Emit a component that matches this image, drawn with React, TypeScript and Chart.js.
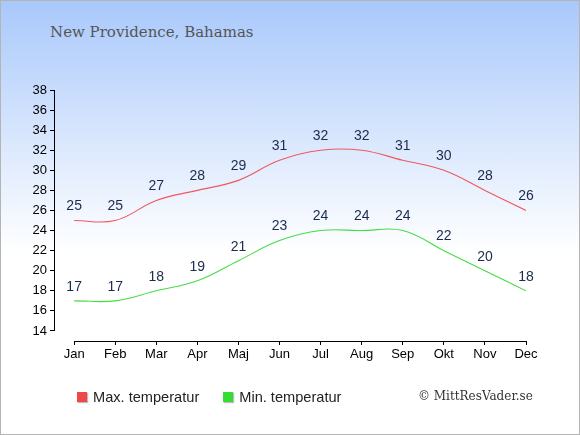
import React, { useEffect, useRef } from 'react';
import { Chart, registerables } from 'chart.js';

Chart.register(...registerables);

const months = ['Jan', 'Feb', 'Mar', 'Apr', 'Maj', 'Jun', 'Jul', 'Aug', 'Sep', 'Okt', 'Nov', 'Dec'];
const maxTemp = [25, 25, 27, 28, 29, 31, 32, 32, 31, 30, 28, 26];
const minTemp = [17, 17, 18, 19, 21, 23, 24, 24, 24, 22, 20, 18];
const yTicks = [14, 16, 18, 20, 22, 24, 26, 28, 30, 32, 34, 36, 38];

const SANS = '"Liberation Sans", Arial, sans-serif';
const SERIF = '"DejaVu Serif", Georgia, serif';

// axis lines that stop at the first/last tick, plus the value labels over each point
const axesAndLabels = {
  id: 'axesAndLabels',
  afterDraw(chart: any) {
    const { ctx, chartArea, scales } = chart;
    const x = scales.x;
    const y = scales.y;
    ctx.save();
    ctx.strokeStyle = '#000';
    ctx.lineWidth = 1;
    ctx.beginPath();
    const ax = Math.round(chartArea.left) + 0.5;
    ctx.moveTo(ax, y.getPixelForValue(yTicks[yTicks.length - 1]));
    ctx.lineTo(ax, y.getPixelForValue(yTicks[0]));
    const ay = Math.round(chartArea.bottom) + 0.5;
    ctx.moveTo(x.getPixelForValue(0), ay);
    ctx.lineTo(x.getPixelForValue(months.length - 1), ay);
    ctx.stroke();

    ctx.fillStyle = '#1b2b4d';
    ctx.font = `14px ${SANS}`;
    ctx.textAlign = 'center';
    ctx.textBaseline = 'middle';
    chart.data.datasets.forEach((ds: any, i: number) => {
      chart.getDatasetMeta(i).data.forEach((pt: any, j: number) => {
        ctx.fillText(String(ds.data[j].y), pt.x, pt.y - 14);
      });
    });
    ctx.restore();
  },
};

const App = () => {
  const canvasRef = useRef<HTMLCanvasElement>(null);

  useEffect(() => {
    document.body.style.margin = '0';
    const ctx = canvasRef.current?.getContext('2d');
    if (!ctx) return;
    const chart = new Chart(ctx, {
      type: 'line',
      data: {
        datasets: [
          {
            label: 'Max. temperatur',
            data: maxTemp.map((v, i) => ({ x: i, y: v })),
            borderColor: '#f0585c',
            borderWidth: 1.1,
            pointRadius: 0,
            tension: 0.4,
            fill: false,
          },
          {
            label: 'Min. temperatur',
            data: minTemp.map((v, i) => ({ x: i, y: v })),
            borderColor: '#44dd44',
            borderWidth: 1.1,
            pointRadius: 0,
            tension: 0.4,
            fill: false,
          },
        ],
      },
      options: {
        animation: false,
        responsive: true,
        maintainAspectRatio: false,
        layout: { padding: { top: 90, right: 54, bottom: 68, left: 0 } },
        plugins: { legend: { display: false }, tooltip: { enabled: false } },
        scales: {
          x: {
            type: 'linear',
            min: -0.49,
            max: 11,
            afterBuildTicks: (s: any) => { s.ticks = months.map((_, i) => ({ value: i })); },
            afterFit: (s: any) => { s.height = 26; },
            ticks: {
              callback: (v: any) => months[v],
              color: '#000',
              font: { family: SANS, size: 13 },
              padding: 2,
              maxRotation: 0,
              autoSkip: false,
            },
            grid: { drawOnChartArea: false, tickLength: 4, color: '#000' },
            border: { display: false },
          },
          y: {
            type: 'linear',
            min: 13,
            max: 38,
            afterBuildTicks: (s: any) => { s.ticks = yTicks.map(v => ({ value: v })); },
            afterFit: (s: any) => { s.width = 54; },
            ticks: {
              color: '#000',
              font: { family: SANS, size: 13 },
              padding: 3,
            },
            grid: { drawOnChartArea: false, tickLength: 4, color: '#000' },
            border: { display: false },
          },
        },
      },
      plugins: [axesAndLabels],
    });
    return () => chart.destroy();
  }, []);

  return (
    <div style={{ position: 'relative', width: 580, height: 435, background: 'linear-gradient(#a8c8fb 0%, #d6e5fd 30%, #ffffff 58%, #ffffff 100%)', overflow: 'hidden' }}>
      <div style={{ position: 'absolute', left: 50, top: 23, fontFamily: SERIF, fontSize: 15, color: '#555' }}>
        New Providence, Bahamas
      </div>
      <div style={{ position: 'absolute', inset: 0 }}>
        <canvas ref={canvasRef}></canvas>
      </div>
      <div style={{ position: 'absolute', left: 77, top: 389, display: 'flex', alignItems: 'center', fontFamily: SANS, fontSize: 14.6, color: '#222' }}>
        <span style={{ width: 10, height: 10, background: '#f04848', boxShadow: '1px 1px 1px #bbb', marginRight: 6 }}></span>
        <span>Max. temperatur</span>
        <span style={{ width: 10, height: 10, background: '#33dd33', boxShadow: '1px 1px 1px #bbb', marginLeft: 24, marginRight: 6 }}></span>
        <span>Min. temperatur</span>
      </div>
      <div style={{ position: 'absolute', left: 418, top: 389, fontFamily: SERIF, fontSize: 12, color: '#333' }}>
        © MittResVader.se
      </div>
      <div style={{ position: 'absolute', inset: 0, border: '1px solid #b4b4b4', boxSizing: 'border-box', pointerEvents: 'none' }}></div>
    </div>
  );
};

export default App;
